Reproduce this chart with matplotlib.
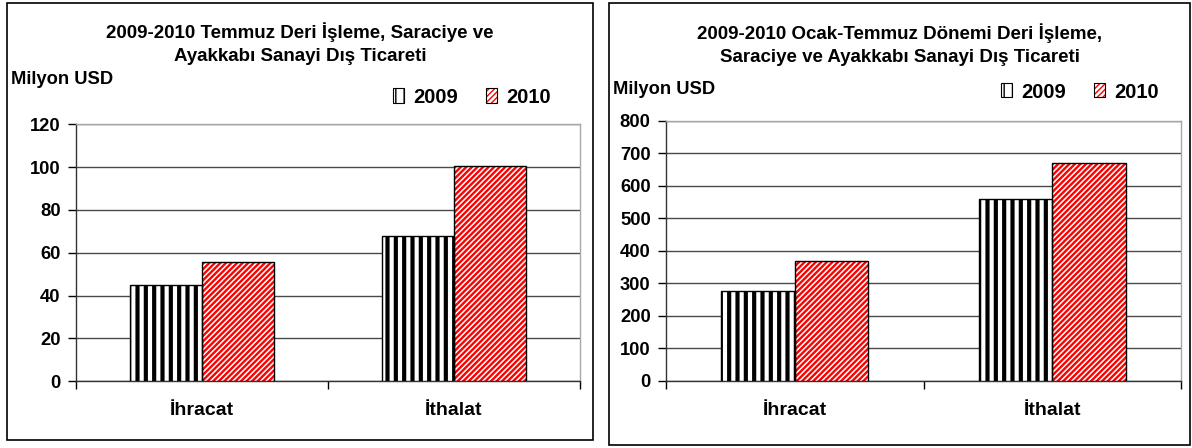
import matplotlib.pyplot as plt
from matplotlib.patches import Patch, Rectangle
from matplotlib.legend_handler import HandlerTuple

plt.rcParams['font.family'] = ['Liberation Sans', 'DejaVu Sans']
plt.rcParams['font.weight'] = 'bold'

# Data
categories = ["İhracat", "İthalat"]
years = ["2009", "2010"]
temmuz_2009 = [45, 68]
temmuz_2010 = [55.5, 100.5]
ocak_2009 = [276, 560]
ocak_2010 = [368, 670]

titles = [
    "2009-2010 Temmuz Deri İşleme, Saraciye ve\nAyakkabı Sanayi Dış Ticareti",
    "2009-2010 Ocak-Temmuz Dönemi Deri İşleme,\nSaraciye ve Ayakkabı Sanayi Dış Ticareti",
]
y_ticks = [list(range(0, 121, 20)), list(range(0, 801, 100))]

W, H = 1192, 448
fig = plt.figure(figsize=(W / 100, H / 100), dpi=100)


def px_rect(x0, y0, x1, y1):
    return [x0 / W, 1 - y1 / H, (x1 - x0) / W, (y1 - y0) / H]


def hatched(p, lw):
    if hasattr(p, "set_hatch_linewidth"):
        p.set_hatch_linewidth(lw)


panels = [
    dict(ax=(76, 124.5, 580, 381), frame=(7, 3, 593, 440), title_y=43.5,
         ylab=(11, 80), leg=(472, 97), vals=(temmuz_2009, temmuz_2010)),
    dict(ax=(666, 120.7, 1181, 380.7), frame=(609, 3, 1190, 445), title_y=44.5,
         ylab=(613, 89), leg=(1080, 92), vals=(ocak_2009, ocak_2010)),
]

width = 0.285
for i, pan in enumerate(panels):
    fx0, fy0, fx1, fy1 = pan["frame"]
    fig.patches.append(Rectangle((fx0 / W, 1 - fy1 / H), (fx1 - fx0) / W, (fy1 - fy0) / H,
                                 transform=fig.transFigure, fill=False,
                                 edgecolor="black", linewidth=1.2))
    fig.text((fx0 + fx1) / 2 / W, 1 - pan["title_y"] / H, titles[i], ha="center",
             va="center", fontsize=13.5, fontweight="bold", linespacing=1.5)
    fig.text(pan["ylab"][0] / W, 1 - pan["ylab"][1] / H, "Milyon USD", ha="left",
             va="center", fontsize=13.2, fontweight="bold")

    ax = fig.add_axes(px_rect(*pan["ax"]))
    v09, v10 = pan["vals"]
    xs = [0.5, 1.5]
    b1 = ax.bar([x - width / 2 for x in xs], v09, width, color="white",
                edgecolor="black", hatch="||", linewidth=0, zorder=3)
    b2 = ax.bar([x + width / 2 for x in xs], v10, width, color="white",
                edgecolor="#ff0000", hatch="//////", linewidth=0, zorder=3)
    for p in b1:
        hatched(p, 3.0)
    for p in b2:
        hatched(p, 1.7)
    ax.bar([x - width / 2 for x in xs], v09, width, fill=False,
           edgecolor="black", linewidth=1.0, zorder=4)
    ax.bar([x + width / 2 for x in xs], v10, width, fill=False,
           edgecolor="black", linewidth=1.0, zorder=4)

    ax.set_xlim(0, 2)
    ax.set_ylim(0, y_ticks[i][-1])
    ax.set_yticks(y_ticks[i])
    ax.set_xticks([0, 1, 2])
    ax.set_xticklabels([])
    ax.set_xticks(xs, minor=True)
    ax.set_xticklabels(categories, minor=True)
    ax.tick_params(axis="x", which="major", length=6, width=1, direction="out")
    ax.tick_params(axis="x", which="minor", length=0, pad=15, labelsize=14)
    ax.tick_params(axis="y", length=6, width=1, pad=5, labelsize=13.2)
    for lab in ax.get_yticklabels() + ax.get_xticklabels(minor=True):
        lab.set_fontweight("bold")

    ax.set_axisbelow(True)
    ax.yaxis.grid(True, color="#4a4a4a", linewidth=1.0)
    ax.spines["top"].set_color("#a8a8a8")
    ax.spines["right"].set_color("#a8a8a8")
    ax.spines["left"].set_color("#333333")
    ax.spines["bottom"].set_color("#333333")
    for s in ax.spines.values():
        s.set_linewidth(1.0)

    h09 = Patch(facecolor="white", edgecolor="black", hatch="||", linewidth=0)
    h10 = Patch(facecolor="white", edgecolor="#ff0000", hatch="//////", linewidth=0)
    hatched(h09, 2.5)
    hatched(h10, 1.5)
    o09 = Patch(fill=False, edgecolor="black", linewidth=0.8)
    o10 = Patch(fill=False, edgecolor="black", linewidth=0.8)
    lx, ly = pan["leg"]
    fig.legend([(h09, o09), (h10, o10)], years, loc="center",
               bbox_to_anchor=(lx / W, 1 - ly / H), ncol=2, frameon=False,
               handler_map={tuple: HandlerTuple(ndivide=1)},
               handlelength=0.55, handleheight=0.7, handletextpad=0.45,
               columnspacing=1.4, prop={"size": 14.5, "weight": "bold"})

fig.savefig("out.png", dpi=100)
